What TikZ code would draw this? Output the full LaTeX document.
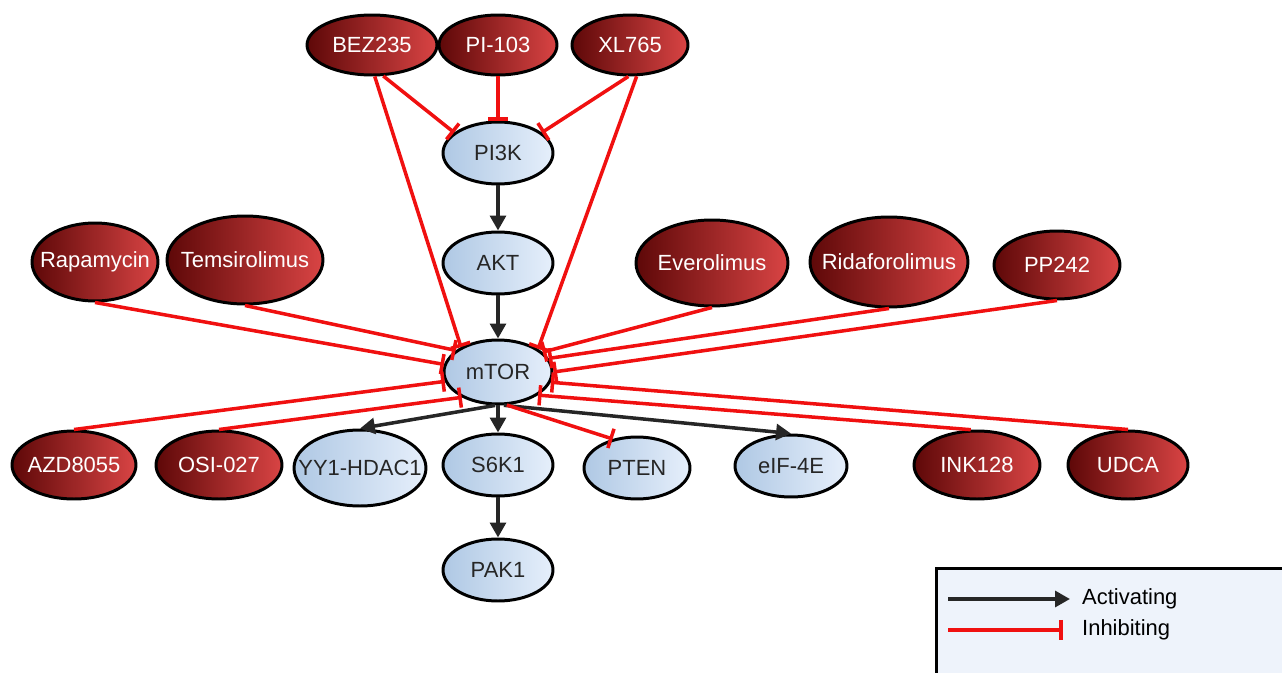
\documentclass[tikz,border=0pt]{standalone}
\usepackage{fontspec}
\setmainfont{Liberation Sans}
\usetikzlibrary{arrows.meta,shapes.geometric}
\definecolor{drugdark}{HTML}{5E0808}
\definecolor{druglight}{HTML}{D94444}
\definecolor{tgtdark}{HTML}{AFC8E4}
\definecolor{tgtlight}{HTML}{E6EFFB}
\definecolor{inhred}{HTML}{F01010}
\definecolor{actgray}{HTML}{262626}
\definecolor{legendbg}{HTML}{EEF3FB}
\begin{document}
\begin{tikzpicture}[x=0.02cm, y=-0.02cm,
    every node/.style={font=\fontsize{12.5}{15}\selectfont},
    drug/.style={ellipse, draw=black, line width=1.7pt, left color=drugdark, right color=druglight, text=white, inner xsep=-10pt, inner ysep=0pt},
    target/.style={ellipse, draw=black, line width=1.7pt, left color=tgtdark, right color=tgtlight, text=black!85, inner xsep=-10pt, inner ysep=0pt},
    act/.style={draw=actgray, line width=2pt, -{Triangle[length=8.5pt, width=9pt]}},
    inh/.style={draw=inhred, line width=2pt, -{Bar[width=11.5pt, line width=2pt]}}]
    \useasboundingbox (0,0) rectangle (1282,673);

    % legend
    \draw[fill=legendbg, line width=1.7pt] (936,568) rectangle (1300,690);
    \coordinate (la1) at (948,599);
    \coordinate (la2) at (1070,599);
    \coordinate (li1) at (948,630);
    \coordinate (li2) at (1063,630);
    \draw[act] (la1) -- (la2);
    \draw[inh] (li1) -- (li2);
    \node[anchor=west] (lact) at (1076,599) {Activating};
    \node[anchor=west] (linh) at (1076,630) {Inhibiting};

    % pathway
    \node[target, minimum width=2.2cm, minimum height=1.24cm] (pi3k) at (498,153) {PI3K};
    \node[target, minimum width=2.2cm, minimum height=1.24cm] (akt) at (498,263) {AKT};
    \node[target, minimum width=2.16cm, minimum height=1.28cm] (mtor) at (498,372) {mTOR};
    \node[target, minimum width=2.64cm, minimum height=1.52cm] (yy1) at (360,468) {YY1-HDAC1};
    \node[target, minimum width=2.2cm, minimum height=1.24cm] (s6k1) at (498,465) {S6K1};
    \node[target, minimum width=2.12cm, minimum height=1.24cm] (pten) at (637,468) {PTEN};
    \node[target, minimum width=2.24cm, minimum height=1.24cm] (eif) at (791,466) {eIF-4E};
    \node[target, minimum width=2.2cm, minimum height=1.24cm] (pak1) at (498,570) {PAK1};

    % drugs
    \node[drug, minimum width=2.6cm, minimum height=1.2cm] (bez) at (372,45) {BEZ235};
    \node[drug, minimum width=2.36cm, minimum height=1.2cm] (pi103) at (498,45) {PI-103};
    \node[drug, minimum width=2.32cm, minimum height=1.2cm] (xl) at (630,45) {XL765};
    \node[drug, minimum width=2.52cm, minimum height=1.56cm] (rapa) at (95,262) {Rapamycin};
    \node[drug, minimum width=3.12cm, minimum height=1.76cm] (tems) at (245,260) {Temsirolimus};
    \node[drug, minimum width=3.04cm, minimum height=1.72cm] (evero) at (712,263) {Everolimus};
    \node[drug, minimum width=3.16cm, minimum height=1.8cm] (rida) at (889,262) {Ridaforolimus};
    \node[drug, minimum width=2.52cm, minimum height=1.36cm] (pp) at (1057,265) {PP242};
    \node[drug, minimum width=2.48cm, minimum height=1.36cm] (azd) at (74,465) {AZD8055};
    \node[drug, minimum width=2.52cm, minimum height=1.36cm] (osi) at (219,465) {OSI-027};
    \node[drug, minimum width=2.52cm, minimum height=1.36cm] (ink) at (977,465) {INK128};
    \node[drug, minimum width=2.4cm, minimum height=1.36cm] (udca) at (1128,465) {UDCA};

    % activating
    \draw[act] (pi3k.south) -- (akt.north);
    \draw[act] (akt.south) -- (mtor.north);
    \draw[act] (mtor.south) -- (s6k1.north);
    \draw[act] (s6k1.south) -- (pak1.north);
    \draw[act] (mtor.265) -- (yy1.north);
    \draw[act] (mtor.280) -- (eif.north);

    % inhibiting
    \draw[inh] (bez.290) -- (pi3k.155);
    \draw[inh] (pi103.south) -- (pi3k.north);
    \draw[inh] (xl.267) -- (pi3k.25);
    \draw[inh] (bez.275) -- (mtor.146);
    \draw[inh] (xl.282) -- (mtor.30);
    \draw[inh] (rapa.south) -- (mtor.172);
    \draw[inh] (tems.south) -- (mtor.153);
    \draw[inh] (evero.south) -- (mtor.24);
    \draw[inh] (rida.south) -- (mtor.15);
    \draw[inh] (pp.south) -- (mtor.0);
    \draw[inh] (azd.north) -- (mtor.190);
    \draw[inh] (osi.north) -- (mtor.215);
    \draw[inh] (ink.100) -- (mtor.330);
    \draw[inh] (udca.north) -- (mtor.349);
    \draw[inh] (mtor.285) -- (pten.130);
\end{tikzpicture}
\end{document}
